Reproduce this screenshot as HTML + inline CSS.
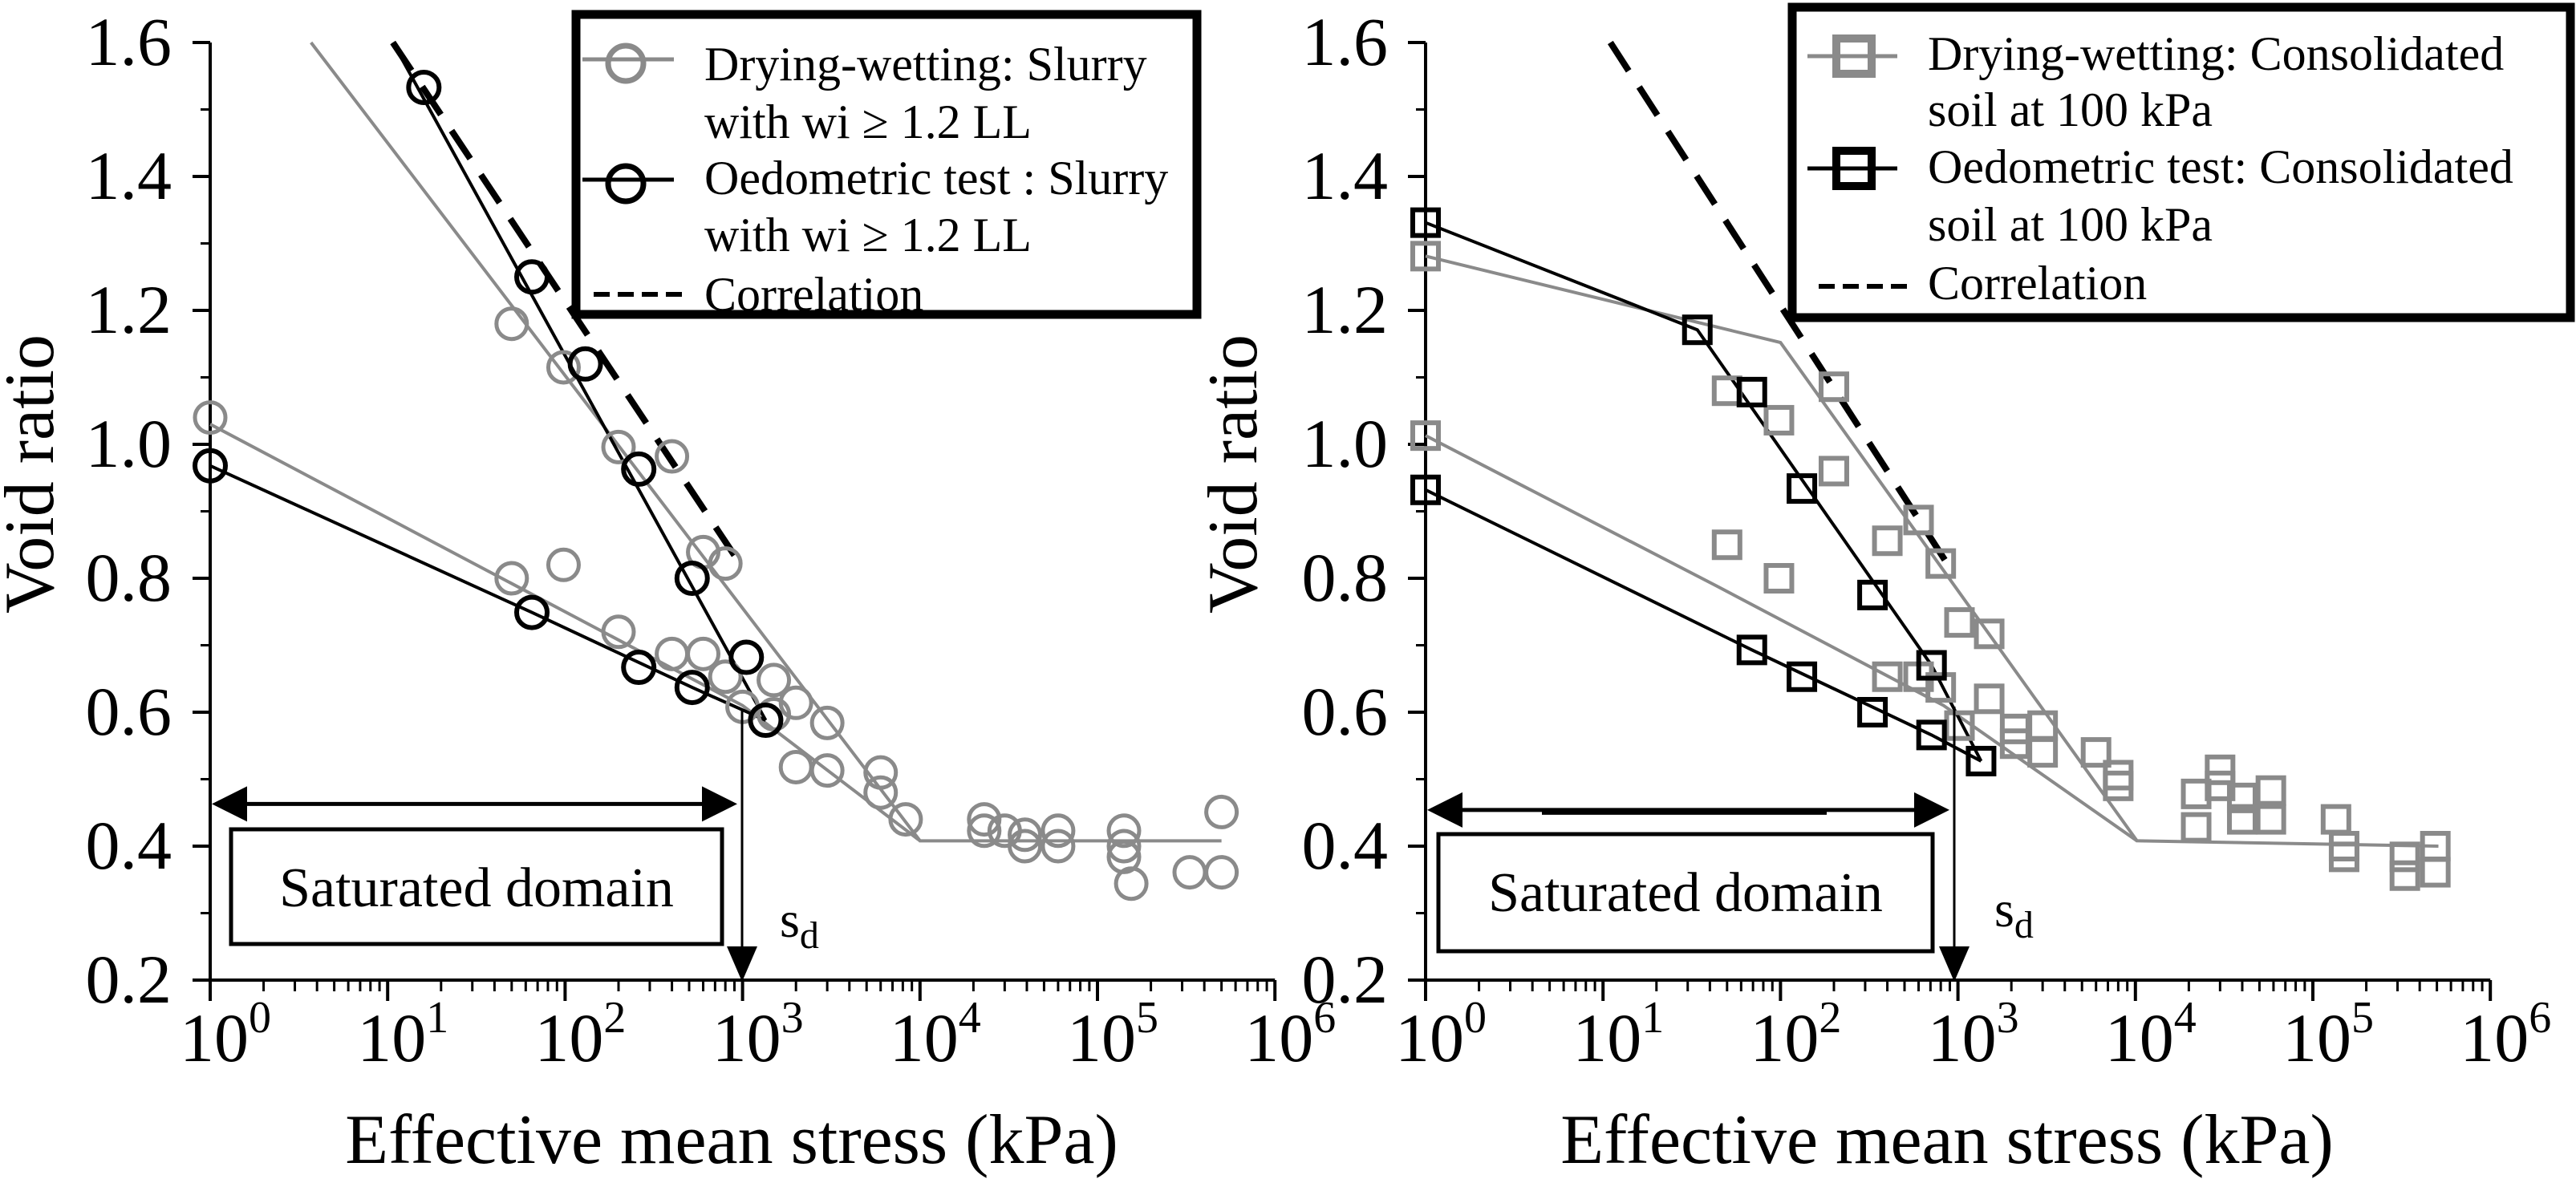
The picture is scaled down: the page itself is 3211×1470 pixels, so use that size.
<!DOCTYPE html>
<html><head><meta charset="utf-8">
<style>
html,body{margin:0;padding:0;background:#fff;}
svg{display:block;}
svg text, svg tspan{font-family:"Liberation Serif","Times New Roman",Times,"DejaVu Serif",serif;fill:#000;}
</style></head>
<body>
<svg id="chart" width="3211" height="1470" viewBox="0 0 3211 1470" xmlns="http://www.w3.org/2000/svg" font-family="Liberation Serif, Times New Roman, DejaVu Serif, serif">
<g id="left"></g>
<g id="right"></g>
</svg>
<script>
// ---- Data (stress in kPa, void ratio) ----
// Left panel: slurry
const lDwStress = [1,50,98,98,50,200,400,200,400,600,600,800,800,1000,1500,1500,2000,2000,3000,3000,6000,6000,8300,23000,23000,30000,39000,39000,60000,60000,141000,141000,141000,155000,331000,500000,500000];
const lDwVoid   = [1.04,1.18,1.115,0.82,0.80,0.996,0.982,0.72,0.687,0.687,0.839,0.822,0.653,0.608,0.648,0.597,0.614,0.518,0.584,0.513,0.51,0.48,0.44,0.44,0.423,0.423,0.417,0.40,0.423,0.40,0.423,0.384,0.40,0.344,0.361,0.451,0.361];
const lOedStress = [16,65,130,260,520,1050,1350,1,65,260,520];
const lOedVoid   = [1.533,1.25,1.12,0.963,0.80,0.682,0.588,0.968,0.749,0.667,0.637];
const lDwFitUpStress = [3.7,10000,500000];
const lDwFitUpVoid   = [1.6,0.408,0.408];
const lDwFitLoStress = [1,1000,10000];
const lDwFitLoVoid   = [1.03,0.61,0.408];
const lOedFitUpStress = [10.7,1350];
const lOedFitUpVoid   = [1.6,0.588];
const lOedFitLoStress = [1,65,520,1350];
const lOedFitLoVoid   = [0.968,0.749,0.637,0.588];
const lCorrStress = [10.7,1000];
const lCorrVoid   = [1.6,0.816];
// Right panel: consolidated soil
const rDwStress = [1,1,50,98,200,200,50,98,400,600,800,400,600,800,1020,1500,1500,1020,2100,2100,3000,3000,6000,8000,8000,22000,22000,30000,30000,40000,40000,58000,58000,135000,150000,150000,330000,330000,490000,490000];
const rDwVoid   = [1.281,1.013,1.08,1.036,1.086,0.96,0.85,0.80,0.856,0.887,0.822,0.653,0.653,0.637,0.734,0.717,0.62,0.58,0.575,0.553,0.58,0.54,0.54,0.506,0.49,0.478,0.428,0.514,0.49,0.472,0.44,0.483,0.44,0.44,0.384,0.40,0.384,0.356,0.40,0.361];
const rOedStress = [1,34,69,132,330,710,1,69,132,330,710,1350];
const rOedVoid   = [1.331,1.171,1.078,0.934,0.775,0.67,0.932,0.693,0.653,0.60,0.566,0.527];
const rDwFitUpStress = [1,100,10200,510000];
const rDwFitUpVoid   = [1.281,1.152,0.408,0.40];
const rDwFitLoStress = [1,44,830,10200];
const rDwFitLoVoid   = [1.013,0.788,0.61,0.408];
const rOedFitUpStress = [1,34,710,1350];
const rOedFitUpVoid   = [1.331,1.171,0.67,0.527];
const rOedFitLoStress = [1,69,710,1350];
const rOedFitLoVoid   = [0.932,0.693,0.566,0.527];
const rCorrStress = [11,930];
const rCorrVoid   = [1.6,0.81];
const yTicks = [0.2,0.4,0.6,0.8,1.0,1.2,1.4,1.6];
const yTickLabels = ["0.2","0.4","0.6","0.8","1.0","1.2","1.4","1.6"];
const xDecades = [0,1,2,3,4,5,6];

const NS = "http://www.w3.org/2000/svg";
const GRAY = "#8a8a8a";
const FONT = "Liberation Serif, Times New Roman, DejaVu Serif, serif";
function el(tag, attrs, parent){const e=document.createElementNS(NS,tag);for(const k in attrs)e.setAttribute(k,attrs[k]);if(tag==='text')e.setAttribute('font-family',FONT);parent.appendChild(e);return e;}

function Y(v){return 1222-(v-0.2)*(1169/1.4);}

function drawPanel(g, x0, cfg){
  const dec = 221.2;
  const X = s => x0 + Math.log10(s)*dec;
  const XL = l => x0 + l*dec;
  const ax = el('path',{d:`M${x0} ${Y(1.6)} V${Y(0.2)} H${XL(6)}`,stroke:'#000','stroke-width':4,fill:'none'},g);
   
  yTicks.forEach((v,i)=>{
    const t=el('line',{x1:x0-22,x2:x0,y1:Y(v),y2:Y(v),stroke:'#000','stroke-width':4},g);
     
    if(i<yTicks.length-1){el('line',{x1:x0-12,x2:x0,y1:Y(v+0.1),y2:Y(v+0.1),stroke:'#000','stroke-width':3},g);}
    const tx=el('text',{x:cfg.yLabX,y:Y(v)+28,'font-size':86,'text-anchor':'end'},g);
    tx.textContent=yTickLabels[i];
     
  });
  xDecades.forEach(d=>{
    el('line',{x1:XL(d),x2:XL(d),y1:Y(0.2),y2:Y(0.2)+26,stroke:'#000','stroke-width':4},g);
    if(d<6){for(let m=2;m<=9;m++){const xx=XL(d+Math.log10(m));el('line',{x1:xx,x2:xx,y1:Y(0.2),y2:Y(0.2)+14,stroke:'#000','stroke-width':3},g);}}
    const tx=el('text',{x:XL(d)-38,y:1323,'font-size':86},g);
     
    tx.appendChild(document.createTextNode('10'));
    const sp=el('tspan',{dy:-36,'font-size':56},tx); sp.textContent=String(d);
  });
  const xt=el('text',{x:x0+650,y:1450,'font-size':88,'text-anchor':'middle'},g);
  xt.textContent='Effective mean stress (kPa)';
   
  const yt=el('text',{x:0,y:0,'font-size':88,'text-anchor':'middle',transform:`translate(${cfg.yTitleX},591) rotate(-90)`},g);
  yt.textContent='Void ratio';
   
  function poly(sx,sy,color,w,name,dash){
    const p=el('polyline',{points:sx.map((s,i)=>X(s)+','+Y(sy[i])).join(' '),stroke:color,'stroke-width':w,fill:'none'},g);
    if(dash)p.setAttribute('stroke-dasharray',dash);
     
  }
  poly(cfg.dwUp[0],cfg.dwUp[1],GRAY,4,'drying-wetting-fit-upper');
  poly(cfg.dwLo[0],cfg.dwLo[1],GRAY,4,'drying-wetting-fit-lower');
  poly(cfg.oedUp[0],cfg.oedUp[1],'#000',4,'oedometric-fit-upper');
  poly(cfg.oedLo[0],cfg.oedLo[1],'#000',4,'oedometric-fit-lower');
  poly(cfg.corr[0],cfg.corr[1],'#000',8,'correlation-line','42 24');
  function mark(sx,sy,color,name){
    sx.forEach((s,i)=>{
      let m;
      if(cfg.shape==='circle') m=el('circle',{cx:X(s),cy:Y(sy[i]),r:19,stroke:color,'stroke-width':color==='#000'?6:5,fill:'none'},g);
      else m=el('rect',{x:X(s)-16,y:Y(sy[i])-16,width:32,height:32,stroke:color,'stroke-width':6,fill:'none'},g);
       
    });
  }
  mark(cfg.dw[0],cfg.dw[1],GRAY,'drying-wetting-point');
  mark(cfg.oed[0],cfg.oed[1],'#000','oedometric-point');
  const ay=Y(cfg.arrowE), ax2=cfg.sdX;
  el('line',{x1:x0+40,x2:ax2-44,y1:ay,y2:ay,stroke:'#000','stroke-width':5},g);
  el('polygon',{points:`${x0+2},${ay} ${x0+46},${ay-22} ${x0+46},${ay+22}`,fill:'#000'},g);
  el('polygon',{points:`${ax2-2},${ay} ${ax2-46},${ay-22} ${ax2-46},${ay+22}`,fill:'#000'},g);
  if(cfg.thick){el('line',{x1:x0+145,x2:x0+500,y1:ay+2,y2:ay+2,stroke:'#000','stroke-width':8},g);}
  el('line',{x1:ax2+4,x2:ax2+4,y1:cfg.vTop,y2:Y(0.2)-30,stroke:'#000','stroke-width':3},g);
  el('polygon',{points:`${ax2+4},${Y(0.2)+2} ${ax2-15},${Y(0.2)-42} ${ax2+23},${Y(0.2)-42}`,fill:'#000'},g);
  const bx=el('rect',{x:cfg.box[0],y:cfg.box[1],width:cfg.box[2],height:cfg.box[3],stroke:'#000','stroke-width':5,fill:'none'},g);
   
  const bt=el('text',{x:cfg.box[0]+cfg.box[2]/2,y:cfg.box[1]+96,'font-size':70,'text-anchor':'middle'},g);
  bt.textContent='Saturated domain';
   
  const sd=el('text',{x:cfg.sdTx,y:cfg.sdTy,'font-size':64},g);
  sd.appendChild(document.createTextNode('s'));
  const sub=el('tspan',{dy:14,'font-size':48},sd); sub.textContent='d';
   
  const L=cfg.leg;
  const lb=el('rect',{x:L.x,y:L.y,width:L.w,height:L.h,stroke:'#000','stroke-width':11,fill:'#fff'},g);
   
  const rows=[[GRAY,L.t[0],L.t[1]],['#000',L.t[2],L.t[3]]];
  rows.forEach((r,i)=>{
    const my=L.my[i];
    el('line',{x1:L.lx1,x2:L.lx2,y1:my,y2:my,stroke:r[0],'stroke-width':5},g);
    let m;
    if(cfg.shape==='circle') m=el('circle',{cx:L.mx,cy:my+5,r:22,stroke:r[0],'stroke-width':7,fill:'none'},g);
    else m=el('rect',{x:L.mx-22,y:my-22,width:44,height:44,stroke:r[0],'stroke-width':10,fill:'none'},g);
     
    const t1=el('text',{x:L.tx,y:L.base[i*2],'font-size':L.fs},g); t1.textContent=r[1];
     
    const t2=el('text',{x:L.tx,y:L.base[i*2+1],'font-size':L.fs},g); t2.textContent=r[2];
     
  });
  el('line',{x1:L.lx1+14,x2:L.lx2+14,y1:L.dy,y2:L.dy,stroke:'#000','stroke-width':6,'stroke-dasharray':'20 10'},g);
  const t5=el('text',{x:L.tx,y:L.base[4],'font-size':L.fs},g); t5.textContent='Correlation';
   
}

drawPanel(document.getElementById('left'),262,{
  shape:'circle',yLabX:214,yTitleX:66,
  dw:[lDwStress,lDwVoid],oed:[lOedStress,lOedVoid],
  dwUp:[lDwFitUpStress,lDwFitUpVoid],dwLo:[lDwFitLoStress,lDwFitLoVoid],
  oedUp:[lOedFitUpStress,lOedFitUpVoid],oedLo:[lOedFitLoStress,lOedFitLoVoid],
  corr:[lCorrStress,lCorrVoid],
  arrowE:0.463,sdX:921,vTop:886,thick:false,box:[288,1034,612,143],sdTx:972,sdTy:1168,
  leg:{x:718,y:18,w:774,h:374,fs:60,tx:878,lx1:726,lx2:840,mx:780,my:[74,224],dy:367,
    base:[100,172,242,313,387],
    t:['Drying-wetting: Slurry','with wi \u2265 1.2 LL','Oedometric test : Slurry','with wi \u2265 1.2 LL']}
});
drawPanel(document.getElementById('right'),1777,{
  shape:'square',yLabX:1730,yTitleX:1566,
  dw:[rDwStress,rDwVoid],oed:[rOedStress,rOedVoid],
  dwUp:[rDwFitUpStress,rDwFitUpVoid],dwLo:[rDwFitLoStress,rDwFitLoVoid],
  oedUp:[rOedFitUpStress,rOedFitUpVoid],oedLo:[rOedFitLoStress,rOedFitLoVoid],
  corr:[rCorrStress,rCorrVoid],
  arrowE:0.454,sdX:2432,vTop:881,thick:true,box:[1793,1040,616,146],sdTx:2486,sdTy:1155,
  leg:{x:2234,y:9,w:970,h:387,fs:60,tx:2403,lx1:2253,lx2:2365,mx:2311,my:[70,210],dy:357,
    base:[87,157,228,300,373],
    t:['Drying-wetting: Consolidated','soil at 100 kPa','Oedometric test: Consolidated','soil at 100 kPa']}
});
</script>
</body></html>
